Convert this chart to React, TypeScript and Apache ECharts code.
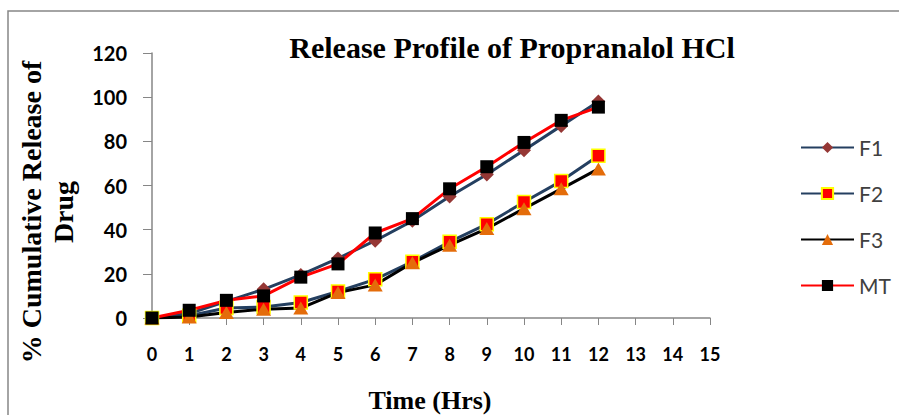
import React, { useEffect, useRef } from "react";
import * as echarts from "echarts";

const timeHrs = [0, 1, 2, 3, 4, 5, 6, 7, 8, 9, 10, 11, 12];
const f1 = [0, 2, 7.5, 13, 19.5, 27, 35, 44, 55, 65, 76, 87, 98];
const f2 = [0, 1, 4.5, 5, 7, 12, 17.5, 25.5, 34.5, 42.5, 52.5, 62, 73.5];
const f3 = [0, 0.5, 2.5, 4, 4.5, 11.5, 15, 25, 33, 40.5, 49.5, 58.5, 67.5];
const mt = [0, 3.5, 8, 10, 18.5, 24.5, 38.5, 45, 58.5, 68.5, 79.5, 89.5, 95.5];

const titleText = "Release Profile of Propranalol HCl";
const yName = "% Cumulative Release of\nDrug";
const xName = "Time (Hrs)";

const pair = (ys: number[]) => timeHrs.map((t, i) => [t, ys[i]]);

const SERIF = "'Liberation Serif', 'Times New Roman', serif";
const SANS = "Lato, 'Open Sans', sans-serif";

export default function App() {
  const ref = useRef<HTMLDivElement>(null);
  useEffect(() => {
    if (!ref.current) return;
    const chart = echarts.init(ref.current, null, { renderer: "svg" });
    const navy = "#243F60";
    chart.setOption({
      animation: false,
      backgroundColor: "#ffffff",
      grid: { left: 152, right: 189, top: 53, bottom: 97, containLabel: false },
      xAxis: {
        type: "value",
        min: 0,
        max: 15,
        interval: 1,
        axisLine: { lineStyle: { color: "#868686", width: 1.5 } },
        axisTick: { show: true, length: 7, lineStyle: { color: "#868686" } },
        splitLine: { show: false },
        axisLabel: { color: "#000", fontFamily: SANS, fontWeight: "bold", fontSize: 18, margin: 27 },
      },
      yAxis: {
        type: "value",
        min: 0,
        max: 120,
        interval: 20,
        axisLine: { show: true, lineStyle: { color: "#868686", width: 1.5 } },
        axisTick: { show: true, length: 9, lineStyle: { color: "#868686" } },
        splitLine: { show: false },
        axisLabel: { color: "#000", fontFamily: SANS, fontWeight: "bold", fontSize: 20, margin: 25 },
      },
      legend: {
        orient: "vertical",
        left: 795,
        top: 132,
        itemWidth: 53,
        itemHeight: 14,
        itemGap: 25,
        textStyle: { fontFamily: SANS, fontSize: 21, color: "#404040", lineHeight: 20, padding: [0, 0, 0, 0] },
        data: ["F1", "F2", "F3", "MT"],
      },
      series: [
        {
          name: "F1",
          type: "line",
          data: pair(f1),
          symbol: "diamond",
          symbolSize: 14,
          lineStyle: { color: navy, width: 3 },
          itemStyle: { color: "#953735" },
        },
        {
          name: "F2",
          type: "line",
          data: pair(f2),
          symbol: "rect",
          symbolSize: 13,
          lineStyle: { color: navy, width: 3 },
          itemStyle: { color: "#FF0000", borderColor: "#FFFF00", borderWidth: 1.5 },
        },
        {
          name: "F3",
          type: "line",
          data: pair(f3),
          symbol: "triangle",
          symbolSize: [15, 13],
          lineStyle: { color: "#000000", width: 3 },
          itemStyle: { color: "#E46C0A" },
        },
        {
          name: "MT",
          type: "line",
          data: pair(mt),
          symbol: "rect",
          symbolSize: 13,
          lineStyle: { color: "#FF0000", width: 3 },
          itemStyle: { color: "#000000" },
        },
      ],
      graphic: [
        {
          type: "rect",
          shape: { x: 8, y: 11, width: 1000, height: 600 },
          style: { fill: "none", stroke: "#868686", lineWidth: 1.5 },
          silent: true,
        },
        {
          type: "text",
          x: 512,
          y: 47,
          style: {
            text: titleText,
            font: `bold 30px ${SERIF}`,
            fill: "#000",
            textAlign: "center",
            textVerticalAlign: "middle",
          },
        },
        {
          type: "text",
          x: 47,
          y: 212,
          rotation: Math.PI / 2,
          style: {
            text: yName,
            font: `bold 28px ${SERIF}`,
            lineHeight: 32,
            fill: "#000",
            textAlign: "center",
            textVerticalAlign: "middle",
          },
        },
        {
          type: "text",
          x: 430,
          y: 400,
          style: {
            text: xName,
            font: `bold 26px ${SERIF}`,
            fill: "#000",
            textAlign: "center",
            textVerticalAlign: "middle",
          },
        },
      ],
    });
    return () => chart.dispose();
  }, []);
  return (
    <div
      ref={ref}
      style={{ position: "absolute", left: 0, top: 0, width: 899, height: 415 }}
    />
  );
}
